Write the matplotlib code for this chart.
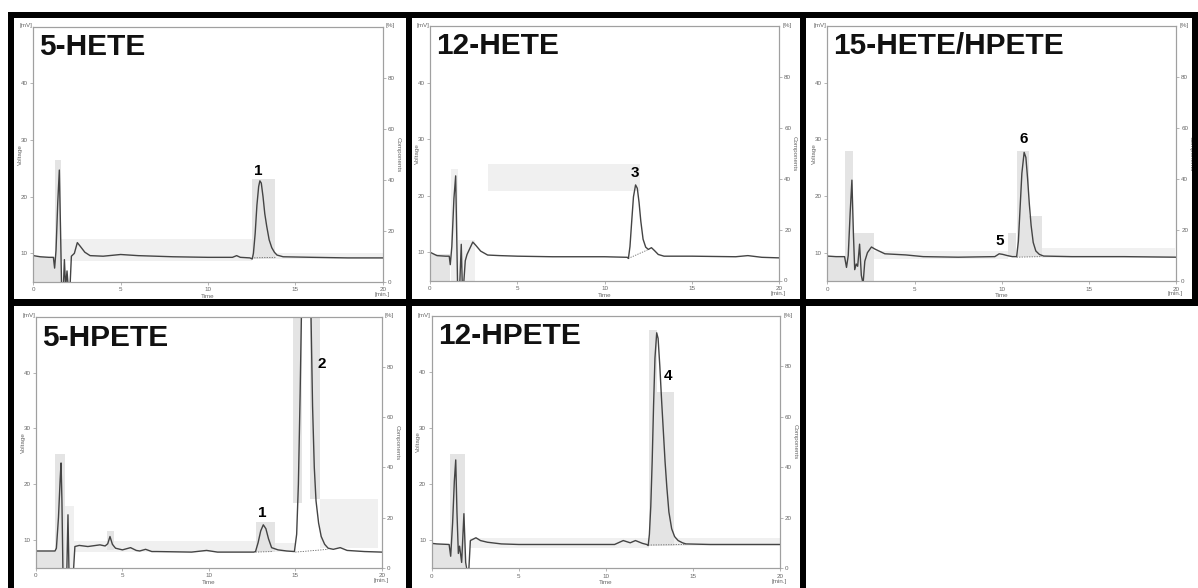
import matplotlib.pyplot as plt
from matplotlib.patches import Rectangle

plt.rcParams['font.family'] = ['Liberation Sans', 'DejaVu Sans']

W, H = 1198, 588

# ---- traces: time [min] / voltage [mV] ----
hete5_t = [0, 0.4, 0.9, 1.15, 1.22, 1.3, 1.4, 1.49, 1.56, 1.62, 1.72, 1.78, 1.85, 1.93, 2.0, 2.1,
           2.18, 2.35, 2.52, 2.7, 2.95, 3.25, 4.0, 5.0, 6.0, 8.0, 10.0, 11.4, 11.64, 11.85, 12.4,
           12.53, 12.6, 12.7, 12.8, 12.9, 12.97, 13.05, 13.15, 13.25, 13.36, 13.5, 13.65, 13.8,
           13.95, 14.3, 16.0, 18.0, 20.0]
hete5_v = [9.6, 9.4, 9.3, 9.3, 7.4, 10.5, 19.0, 24.7, 14.0, 4.0, 4.0, 8.9, 4.0, 6.9, 4.0, 4.0,
           9.5, 10.0, 11.9, 11.2, 10.2, 9.6, 9.5, 9.8, 9.6, 9.4, 9.3, 9.3, 9.6, 9.3, 9.2,
           9.0, 10.0, 13.5, 18.5, 21.8, 22.8, 22.4, 20.0, 17.0, 14.8, 12.4, 11.0, 10.2,
           9.7, 9.4, 9.3, 9.2, 9.2]

hete12_t = [0, 0.4, 0.9, 1.1, 1.16, 1.25, 1.37, 1.47, 1.53, 1.58, 1.7, 1.79, 1.85, 1.92, 2.02,
            2.12, 2.3, 2.45, 2.6, 2.9, 3.3, 4.0, 5.0, 7.0, 10.0, 11.3, 11.36, 11.45, 11.55, 11.65,
            11.77, 11.87, 11.97, 12.07, 12.2, 12.35, 12.5, 12.68, 12.85, 13.07, 13.4, 15.0, 17.5,
            18.2, 19.0, 20.0]
hete12_v = [10.0, 9.4, 9.3, 9.3, 7.8, 11.0, 19.5, 23.5, 13.0, 4.0, 4.0, 11.4, 4.0, 4.0, 8.5,
            9.6, 10.8, 11.8, 11.3, 10.2, 9.5, 9.4, 9.3, 9.2, 9.2, 9.1, 8.9, 11.0, 15.5, 19.8,
            21.9, 21.3, 18.8, 15.5, 12.3, 10.9, 10.5, 10.8, 10.3, 9.6, 9.3, 9.3, 9.2,
            9.4, 9.1, 9.0]

hete15_t = [0, 0.5, 0.99, 1.1, 1.2, 1.31, 1.41, 1.5, 1.57, 1.66, 1.74, 1.85, 1.95, 2.05, 2.15,
            2.3, 2.53, 2.75, 3.3, 4.5, 5.5, 7.5, 9.6, 9.85, 10.05, 10.3, 10.6, 10.85, 10.95, 11.05,
            11.15, 11.28, 11.38, 11.48, 11.58, 11.68, 11.8, 11.95, 12.15, 12.4, 14.0, 17.0, 20.0]
hete15_v = [9.4, 9.3, 9.3, 7.4, 9.5, 17.0, 22.8, 13.0, 7.0, 8.0, 7.6, 11.5, 6.0, 4.5, 8.5,
            10.0, 11.0, 10.6, 9.8, 9.6, 9.3, 9.2, 9.3, 9.8, 9.7, 9.5, 9.3, 9.3, 12.0, 18.0,
            24.0, 27.7, 26.8, 23.0, 18.5, 14.8, 11.8, 10.3, 9.7, 9.4, 9.3, 9.3, 9.2]

hpete5_t = [0, 0.5, 1.1, 1.18, 1.3, 1.4, 1.45, 1.5, 1.56, 1.78, 1.85, 1.91, 1.97, 2.16, 2.25,
            2.5, 3.0, 3.7, 4.0, 4.15, 4.28, 4.42, 4.6, 5.0, 5.47, 5.8, 6.0, 6.34, 6.7, 7.0,
            9.0, 9.87, 10.5, 12.6, 12.7, 12.85, 13.0, 13.15, 13.3, 13.45, 13.63, 14.0, 14.5,
            14.95, 15.08, 15.18, 15.28, 15.38, 15.5, 15.65, 15.8, 15.9, 16.0, 16.1, 16.2, 16.35,
            16.5, 16.7, 16.9, 17.2, 17.6, 18.0, 19.0, 20.0]
hpete5_v = [8.0, 8.0, 8.0, 8.5, 14.0, 21.0, 23.8, 17.0, 4.0, 4.0, 14.5, 4.0, 4.0, 4.0, 8.8,
            9.0, 8.8, 9.1, 8.9, 9.3, 10.6, 9.2, 8.5, 8.2, 8.6, 8.1, 8.0, 8.3, 7.9, 7.9,
            7.8, 8.1, 7.8, 7.8, 7.9, 9.5, 11.6, 12.7, 12.0, 10.2, 8.6, 8.2, 8.0,
            7.9, 11.0, 20.0, 36.0, 55.0, 75.0, 82.0, 70.0, 52.0, 34.0, 23.0, 17.0, 13.0,
            10.6, 9.2, 8.5, 8.3, 8.6, 8.1, 7.9, 7.8]

hpete12_t = [0, 0.3, 1.0, 1.09, 1.2, 1.3, 1.38, 1.45, 1.53, 1.6, 1.72, 1.85, 1.95, 2.05, 2.12,
             2.22, 2.54, 2.8, 3.2, 4.0, 5.0, 8.0, 10.5, 11.0, 11.4, 11.7, 12.1, 12.35, 12.43, 12.5,
             12.58, 12.66, 12.74, 12.82, 12.92, 13.0, 13.1, 13.2, 13.3, 13.4, 13.5, 13.62, 13.78,
             13.95, 14.15, 14.4, 14.6, 16.0, 18.0, 20.0]
hpete12_v = [9.4, 9.3, 9.2, 7.1, 13.0, 20.5, 24.3, 15.0, 7.6, 8.9, 6.0, 14.7, 6.0, 4.0, 4.0,
             9.9, 10.4, 9.9, 9.6, 9.3, 9.2, 9.2, 9.2, 9.9, 9.5, 9.9, 9.4, 9.2, 9.0, 11.0,
             16.0, 24.0, 34.0, 42.5, 47.0, 46.0, 41.0, 35.0, 29.5, 24.0, 19.5, 15.0, 12.0,
             10.6, 9.9, 9.5, 9.3, 9.2, 9.2, 9.2]

# integration windows (t0, t1, v0, v1)
hete5_boxes = [(0, 1.25, 5, 9.4), (1.25, 1.58, 5, 26.4), (12.5, 13.85, 9.0, 23.2)]
hete5_faint = [(1.6, 12.5, 8.7, 12.6), (13.85, 20, 9.0, 10.0)]
hete12_boxes = [(0, 1.15, 5, 9.6)]
hete12_faint = [(1.2, 1.6, 5, 24.8), (1.6, 2.6, 5, 12.2), (3.3, 12.0, 20.8, 25.6)]
hete15_boxes = [(0, 1.0, 5, 9.4), (1.0, 1.5, 5, 28.0), (1.5, 2.65, 5, 13.5),
                (10.35, 10.8, 9.2, 13.5), (10.85, 11.55, 9.2, 28.0), (11.55, 12.3, 9.2, 16.4)]
hete15_faint = [(2.65, 10.35, 8.8, 10.3), (12.3, 19.9, 9.0, 10.8)]
hpete5_boxes = [(0, 1.1, 5, 8.0), (1.1, 1.7, 5, 25.4), (4.1, 4.5, 8.2, 11.5),
                (12.7, 13.8, 7.8, 13.2), (14.85, 15.37, 16.6, 50), (15.85, 16.45, 17.3, 50)]
hpete5_faint = [(1.7, 2.2, 5, 16), (2.2, 12.7, 7.8, 9.8), (13.8, 15.0, 7.8, 9.5),
                (16.45, 19.8, 8.6, 17.3)]
hpete12_boxes = [(0, 1.05, 5, 9.2), (1.05, 1.9, 5, 25.4), (12.45, 12.95, 9.0, 47.5),
                 (12.95, 13.9, 9.0, 36.5)]
hpete12_faint = [(2.2, 12.45, 8.6, 10.4), (13.9, 20, 9.0, 10.3)]

# dotted peak baselines (t0, v0, t1, v1)
hete5_base = [(12.5, 9.2, 13.9, 9.3)]
hete12_base = [(11.35, 8.9, 12.45, 10.4)]
hete15_base = [(10.85, 9.2, 12.3, 9.3)]
hpete5_base = [(12.7, 7.8, 13.7, 7.9), (15.0, 7.8, 16.9, 8.3)]
hpete12_base = [(12.43, 9.1, 14.6, 9.2)]

# peak numbers (label, t, v)
hete5_labels = [("1", 12.86, 24.6)]
hete12_labels = [("3", 11.73, 24.0)]
hete15_labels = [("5", 9.9, 12.0), ("6", 11.24, 30.0)]
hpete5_labels = [("1", 13.09, 14.9), ("2", 16.52, 41.5)]
hpete12_labels = [("4", 13.58, 39.2)]

x_ticks = [0, 5, 10, 15, 20]
mv_ticks = [10, 20, 30, 40]
pct_ticks = [0, 20, 40, 60, 80]

panels = [
    dict(title="5-HETE", t=hete5_t, v=hete5_v, boxes=hete5_boxes, faint=hete5_faint,
         base=hete5_base, labels=hete5_labels, rect=(33.3, 26.7, 382.7, 281.7)),
    dict(title="12-HETE", t=hete12_t, v=hete12_v, boxes=hete12_boxes, faint=hete12_faint,
         base=hete12_base, labels=hete12_labels, rect=(430, 26.0, 779.3, 280.5)),
    dict(title="15-HETE/HPETE", t=hete15_t, v=hete15_v, boxes=hete15_boxes, faint=hete15_faint,
         base=hete15_base, labels=hete15_labels, rect=(827.3, 26.0, 1176.3, 281.0)),
    dict(title="5-HPETE", t=hpete5_t, v=hpete5_v, boxes=hpete5_boxes, faint=hpete5_faint,
         base=hpete5_base, labels=hpete5_labels, rect=(36, 317, 381.7, 567.7)),
    dict(title="12-HPETE", t=hpete12_t, v=hpete12_v, boxes=hpete12_boxes, faint=hpete12_faint,
         base=hpete12_base, labels=hpete12_labels, rect=(431.7, 316, 780, 568)),
]


def frac(l, t, r, b):
    return [l / W, 1 - b / H, (r - l) / W, (b - t) / H]


fig = plt.figure(figsize=(W / 100, H / 100), dpi=100)
fig.patch.set_facecolor('white')

small = dict(fontsize=4.5, color='#666666')
for p in panels:
    ax = fig.add_axes(frac(*p['rect']))
    ax.set_xlim(0, 20)
    ax.set_ylim(5, 50)
    for t0, t1, v0, v1 in p['faint']:
        ax.add_patch(Rectangle((t0, v0), t1 - t0, v1 - v0, facecolor='#f0f0f0',
                               edgecolor='none', zorder=0))
    for t0, t1, v0, v1 in p['boxes']:
        ax.add_patch(Rectangle((t0, v0), t1 - t0, v1 - v0, facecolor='#e4e4e4',
                               edgecolor='none', zorder=0))
    ax.plot(p['t'], p['v'], color='#444444', lw=1.0, zorder=3)
    for t0, v0, t1, v1 in p['base']:
        ax.plot([t0, t1], [v0, v1], color='#666666', lw=0.6, ls=(0, (1.5, 1.5)), zorder=2)
    for txt, tt, vv in p['labels']:
        ax.text(tt, vv, txt, ha='center', va='center', fontsize=11, fontweight='bold', zorder=4)
    ax.annotate(p['title'], xy=(0, 1), xycoords='axes fraction', xytext=(6, -28.5),
                textcoords='offset pixels', fontsize=21.5, fontweight='bold',
                ha='left', va='baseline', color='#111111')

    for s in ax.spines.values():
        s.set_color('#a0a0a0')
        s.set_linewidth(0.8)
    ax.set_xticks(x_ticks)
    ax.set_yticks(mv_ticks)
    ax.tick_params(axis='both', length=2, width=0.5, color='#999999', pad=2,
                   labelsize=4.5, labelcolor='#666666')

    ax2 = ax.twinx()
    ax2.set_ylim(0, 100)
    ax2.set_yticks(pct_ticks)
    ax2.tick_params(axis='y', length=2, width=0.5, color='#999999', pad=1.5,
                    labelsize=4.5, labelcolor='#666666')
    for s in ax2.spines.values():
        s.set_color('#a0a0a0')
        s.set_linewidth(0.8)

    ax.annotate("[mV]", xy=(0, 1), xycoords='axes fraction', xytext=(-1, 1),
                textcoords='offset pixels', ha='right', va='center', **small)
    ax.annotate("[%]", xy=(1, 1), xycoords='axes fraction', xytext=(3, 1),
                textcoords='offset pixels', ha='left', va='center', **small)
    ax.annotate("Time", xy=(0.5, 0), xycoords='axes fraction', xytext=(0, -15),
                textcoords='offset pixels', ha='center', va='center', **small)
    ax.annotate("[min.]", xy=(1, 0), xycoords='axes fraction', xytext=(-1, -13),
                textcoords='offset pixels', ha='center', va='center', **small)
    ax.annotate("Voltage", xy=(0, 0.5), xycoords='axes fraction', xytext=(-13, 0),
                textcoords='offset pixels', ha='center', va='center', rotation=90, **small)
    ax.annotate("Components", xy=(1, 0.5), xycoords='axes fraction', xytext=(15, 0),
                textcoords='offset pixels', ha='center', va='center', rotation=270, **small)

# thick black frame around the panels (pixel boxes: l, t, r, b)
frame = [(8, 12, 1198, 18), (8, 12, 14, 588), (8, 299, 1198, 306),
         (406, 12, 412, 588), (800, 12, 806, 588), (1192, 12, 1198, 306)]
for l, t, r, b in frame:
    x, y, w, h = frac(l, t, r, b)
    fig.patches.append(Rectangle((x, y), w, h, transform=fig.transFigure,
                                 facecolor='black', edgecolor='none', zorder=5))

fig.savefig("out.png", dpi=100)
